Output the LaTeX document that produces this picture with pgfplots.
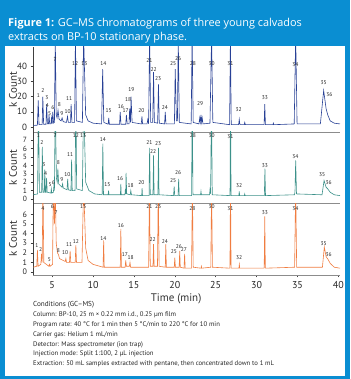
\documentclass[border=0pt]{standalone}
\usepackage{pgfplots}
\pgfplotsset{compat=1.18}
\usepackage{fontspec}
\setmainfont{PT Sans}
\newfontfamily\titlefont{Open Sans}
\definecolor{bgblue}{RGB}{10,142,210}
\definecolor{cnavy}{RGB}{40,65,150}
\definecolor{cteal}{RGB}{60,145,138}
\definecolor{corange}{RGB}{240,125,65}

\pgfplotsset{
  chrom/.style={
    scale only axis, width=307pt, xmin=2.66, xmax=40.2,
    axis lines*=left,
    x axis line style={black!45, line width=0.7pt},
    y axis line style={black!75, line width=0.5pt},
    tick align=outside, major tick length=2.5pt,
    tick style={black!75, line width=0.5pt},
    /pgf/number format/assume math mode=true,
    ylabel={k Count},
    every axis y label/.style={at={([xshift=-20pt]rel axis cs:0,0.5)}, rotate=90, anchor=center, font=\fontsize{11}{11}\selectfont, text=black!80},
    yticklabel style={text=black!85},
    clip=true,
  },
  labs/.style={draw=none, nodes near coords, point meta=explicit symbolic,
    nodes near coords style={font=\fontsize{5.5}{5.5}\selectfont, anchor=center, inner sep=0pt, text=black!85}},
}

\begin{document}
\begin{tikzpicture}
\fill[bgblue] (0pt,0pt) rectangle (350pt,379pt);
\fill[white] (5pt,3pt) rectangle (345pt,333pt);
\node[anchor=base west, text=white, inner sep=0pt, font=\titlefont\fontsize{10.9}{12}\selectfont] at (8pt,352pt) {\textbf{Figure 1:} GC–MS chromatograms of three young calvados};
\node[anchor=base west, text=white, inner sep=0pt, font=\titlefont\fontsize{10.9}{12}\selectfont] at (8pt,338pt) {extracts on BP-10 stationary phase.};

% ---------------- top panel ----------------
\begin{axis}[chrom, at={(33pt,247pt)}, anchor=south west, height=85pt,
  ymin=-3.3, ymax=52.6, ytick={0,10,20,30,40}, xtick=\empty,
  yticklabel style={font=\fontsize{9}{9}\selectfont}]
\addplot[cnavy, line width=0.6pt] table {
t v
2.70 1.0
3.20 1.2
3.30 17.5
3.40 1.5
3.78 1.5
3.86 20
3.96 1.8
4.25 1.8
4.33 15
4.42 2
4.55 2
4.62 8
4.70 2
4.85 2
4.92 6
5.00 2
5.08 10
5.18 2.5
5.28 3
5.38 60
5.50 8
5.60 6
5.72 11
5.85 5
6.10 4
6.22 6
6.35 3.5
6.75 3
6.88 7
6.98 3
7.25 3
7.32 15
7.42 3
7.75 3
7.85 60
7.97 4
8.70 3
8.85 60
9.10 8
9.40 4
10.00 2.5
11.05 2
11.18 38
11.32 3
11.85 1.8
11.92 6
12.00 1.8
13.25 1.8
13.32 10
13.42 1.8
14.00 1.8
14.08 8
14.18 2
14.40 2
14.48 12
14.58 3
14.65 20
14.78 3
15.90 2
15.98 7
16.06 2
16.60 2
16.70 5
16.80 2
16.92 60
17.05 3
17.30 3
17.40 36
17.50 3
17.90 2.5
18.00 28
18.10 2.5
18.75 2
18.83 10
18.92 2
19.95 2
20.05 38
20.20 4
20.32 4
20.42 60
20.55 3
22.00 2
22.12 60
22.25 3
22.95 2
23.05 6
23.12 3
23.20 8
23.28 3
23.35 6
23.45 2
24.30 2.5
24.50 60
24.65 3
26.70 1.5
26.80 60
26.90 1.5
27.80 1.5
27.88 5
27.96 1.5
28.50 1.5
28.55 3
28.62 1.5
30.92 1.5
31.00 15
31.08 1.5
32.00 1.5
32.05 2.5
32.10 1.5
34.60 2
34.78 60
34.95 2
37.80 2
38.20 24
38.50 12
38.70 8
39.00 4
39.50 2.5
40.20 2
};
\addplot[labs] table[meta=lab] {
t v lab
3.33 21 1
3.86 24 2
4.35 19 3
4.43 14 4
4.70 9 5
5.08 13 6
5.37 44 7
5.90 14.8 8
6.20 8.6 9
6.90 9.9 10
7.07 19 11
7.80 42 12
8.95 42 13
11.26 42 14
11.90 10.9 15
13.40 13.2 16
14.00 11 17
14.30 18 18
14.70 24.5 19
15.90 10.9 20
16.90 44 21
17.40 37.5 22
17.97 32 23
18.80 13 24
19.80 42 25
20.40 45 26
22.20 42 28
23.10 15.5 29
24.50 42 30
26.80 42 31
27.80 11.3 32
31.00 19.5 33
34.75 41 34
38.20 29 35
38.90 21 36
};
\end{axis}

% ---------------- middle panel ----------------
\begin{axis}[chrom, at={(33pt,176pt)}, anchor=south west, height=71pt,
  ymin=-0.48, ymax=7.98, ytick={0,1,...,7}, xtick=\empty,
  yticklabel style={font=\fontsize{7.5}{7.5}\selectfont}]
\addplot[cteal, line width=0.6pt] table {
t v
2.70 0.5
3.22 0.6
3.33 12
3.44 0.8
3.72 0.8
3.80 6.2
3.88 0.8
4.03 0.8
4.10 3.5
4.17 0.8
4.25 0.8
4.32 2.5
4.40 0.8
4.85 0.7
4.90 1.2
4.96 0.7
5.15 0.8
5.21 1.5
5.28 1.0
5.38 12
5.52 2.5
5.62 2
5.70 3.6
5.80 1.8
6.20 1.4
6.28 1.8
6.36 1.3
6.82 1.1
6.90 2.4
6.98 1.1
7.30 1.0
7.38 4.7
7.46 1.0
7.80 1.0
7.90 12
8.00 1.2
8.70 1.0
8.85 12
9.10 2
9.50 1.0
10.20 0.6
11.12 0.5
11.20 6.6
11.28 0.5
11.85 0.5
11.90 1.0
11.95 0.5
13.35 0.5
13.40 1.8
13.45 0.5
13.90 0.5
13.96 1.2
14.00 0.6
14.04 3.1
14.12 0.6
14.55 0.5
14.62 1.0
14.70 0.5
15.95 0.4
16.00 1.3
16.05 0.4
16.85 0.4
16.92 6.1
17.00 0.5
17.33 0.5
17.40 5.2
17.47 0.5
17.93 0.5
18.00 6.1
18.07 0.5
19.85 0.4
19.92 1.5
19.99 0.4
20.40 0.4
20.47 2.4
20.54 0.4
22.05 0.4
22.13 12
22.22 0.5
23.15 0.5
23.20 0.9
23.25 0.5
24.25 0.5
24.30 1.1
24.38 0.6
24.48 12
24.58 0.5
26.75 0.4
26.81 12
26.88 0.4
27.83 0.4
27.88 0.9
27.93 0.4
28.50 0.4
28.55 0.6
28.60 0.4
30.95 0.4
31.02 3.6
31.09 0.4
34.65 0.5
34.70 1.0
34.78 4.6
34.88 0.6
38.00 0.5
38.25 2.2
38.50 1.4
38.70 1.2
39.00 0.8
39.50 0.5
40.20 0.4
};
\addplot[labs] table[meta=lab] {
t v lab
3.33 7.55 1
3.74 6.7 2
4.00 4.05 3
4.20 3.0 4
4.75 1.67 5
5.16 2.0 6
5.37 7.55 7
5.77 4.3 8
6.18 2.26 9
6.87 2.95 10
7.20 5.3 11
7.90 7.55 12
8.80 7.55 13
11.20 7.1 14
11.75 1.7 15
13.30 2.45 16
14.60 1.6 18
15.90 1.9 20
16.90 6.7 21
17.35 5.6 22
17.96 6.6 23
19.80 2.2 25
20.40 3.2 26
22.20 7.5 28
24.50 7.5 30
26.80 7.4 31
27.85 1.6 32
31.00 4.0 33
34.75 5.1 34
38.00 2.9 35
38.80 2.0 36
};
\end{axis}

% ---------------- bottom panel ----------------
\begin{axis}[chrom, at={(33pt,104pt)}, anchor=south west, height=72pt,
  ymin=-0.31, ymax=7.19, ytick={0,1,...,6}, xtick={5,10,...,40},
  yticklabel style={font=\fontsize{8}{8}\selectfont},
  xticklabel style={font=\fontsize{10}{10}\selectfont, text=black!85},
  xlabel={Time (min)},
  every axis x label/.style={at={(rel axis cs:0.466,0)}, anchor=north, yshift=-15pt, font=\fontsize{11}{11}\selectfont, text=black!80}]
\addplot[corange, line width=0.6pt] table {
t v
2.70 0.5
3.12 0.6
3.20 2.3
3.28 0.6
3.62 0.8
3.70 1.9
3.78 1.0
3.88 9
3.98 1.0
4.60 0.6
4.68 0.8
4.75 0.6
5.05 0.8
5.15 9
5.28 5
5.38 9
5.50 3
5.65 2
5.78 1.8
5.90 1.4
6.60 1.1
6.68 1.4
6.76 1.0
7.12 1.0
7.20 2.2
7.28 1.0
7.82 1.0
7.90 2.8
7.98 1.0
8.65 1.0
8.85 9
9.10 2.5
9.40 1.2
10.00 0.8
11.23 0.5
11.30 3.3
11.37 0.5
13.33 0.5
13.40 4.5
13.47 0.5
13.93 0.5
14.00 1.2
14.08 0.6
14.45 0.6
14.52 1.0
14.60 0.5
16.80 0.5
16.90 9
17.00 0.6
17.33 0.6
17.40 2.9
17.47 0.6
17.88 0.6
17.98 9
18.08 0.6
18.83 0.5
18.90 2.9
18.97 0.5
19.93 0.5
20.00 1.5
20.07 0.5
20.53 0.5
20.60 2.2
20.67 0.5
21.13 0.4
21.20 1.9
21.27 0.4
22.05 0.4
22.15 9
22.25 0.5
23.20 0.4
23.25 0.6
23.30 0.4
24.40 0.5
24.50 9
24.60 0.5
26.74 0.4
26.81 9
26.88 0.4
27.84 0.4
27.89 0.8
27.94 0.4
30.93 0.4
31.00 5.8
31.07 0.4
34.65 0.5
34.78 9
34.90 0.5
38.05 0.5
38.28 2.6
38.50 1.6
38.75 1.3
39.00 0.9
39.50 0.5
40.20 0.4
};
\addplot[labs] table[meta=lab] {
t v lab
3.13 2.8 1
3.60 2.3 2
3.86 6.6 4
4.67 1.3 5
5.04 6.8 6
5.50 6.2 7
5.77 2.2 8
6.60 2.0 10
7.07 2.9 11
7.90 3.2 12
8.80 6.8 13
11.26 3.5 14
13.40 4.8 16
13.90 1.8 17
14.60 1.5 18
16.90 6.8 21
17.30 3.4 22
17.96 6.8 23
18.80 3.2 24
19.90 2.1 25
20.50 2.7 26
21.10 2.3 27
22.15 6.6 28
24.50 6.8 30
26.80 6.6 31
27.85 1.5 32
31.00 6.2 33
34.75 6.6 34
38.20 3.0 35
38.80 1.8 36
};
\end{axis}

% ---------------- conditions ----------------
\begin{scope}[every node/.style={anchor=base west, inner sep=0pt, font=\fontsize{6.7}{8}\selectfont, text=black!85}]
\node at (33pt,72pt) {\fontsize{7.2}{8}\selectfont Conditions (GC–MS)};
\node at (33pt,62.2pt) {Column: BP-10, 25 m × 0.22 mm i.d., 0.25 µm film};
\node at (33pt,52.4pt) {Program rate: 40 °C for 1 min then 5 °C/min to 220 °C for 10 min};
\node at (33pt,42.6pt) {Carrier gas: Helium 1 mL/min};
\node at (33pt,32.8pt) {Detector: Mass spectrometer (ion trap)};
\node at (33pt,23pt) {Injection mode: Split 1:100, 2 µL injection};
\node at (33pt,13.2pt) {Extraction: 50 mL samples extracted with pentane, then concentrated down to 1 mL};
\end{scope}
\end{tikzpicture}
\end{document}
